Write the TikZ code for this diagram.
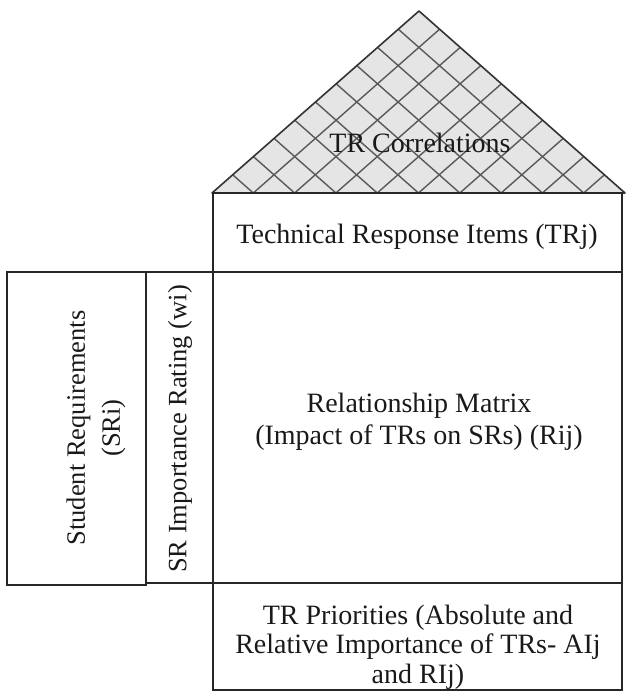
\documentclass[tikz,border=0pt]{standalone}
\usepackage{fontspec}
\setmainfont{Liberation Serif}
\usetikzlibrary{calc}
\begin{document}
\begin{tikzpicture}[x=1pt,y=-1pt,
  box/.style={draw=black!85, line width=2pt, rectangle, inner sep=0pt},
  hatch/.style={draw=black!65, line width=1.4pt},
  lbl/.style={font=\fontsize{28}{32}\selectfont, text=black!90, align=center, inner sep=0pt},
  vlbl/.style={lbl, rotate=90, font=\fontsize{26.5}{31}\selectfont}]
\useasboundingbox (0,0) rectangle (625,693);
% roof
\coordinate (apex) at (419,11);
\coordinate (bl) at (212,193);
\coordinate (br) at (625,193);
\fill[black!10] (apex) -- (bl) -- (br) -- cycle;
\foreach \i in {1,...,9} {
  \draw[hatch] ($(apex)!{\i/10}!(bl)$) -- ($(bl)!{(10-\i)/10}!(br)$);
  \draw[hatch] ($(apex)!{\i/10}!(br)$) -- ($(bl)!{\i/10}!(br)$);
}
\draw[draw=black!80, line width=1.6pt, line join=round] (apex) -- (bl) -- (br) -- cycle;
% boxes
\node[box, minimum width=409pt, minimum height=79pt] (tr) at (417.5,232.5) {};
\node[box, minimum width=409pt, minimum height=311pt] (rm) at (417.5,427.5) {};
\node[box, minimum width=409pt, minimum height=107pt] (pri) at (417.5,636.5) {};
\node[box, minimum width=139pt, minimum height=313pt] (sr) at (76.5,428.5) {};
\node[box, minimum width=67pt, minimum height=311pt] (wi) at (179.5,427.5) {};
% labels
\node[lbl] (trc) at (420,143) {TR Correlations};
\node[lbl] (tri) at (417,237) {Technical Response Items (TRj)};
\node[lbl] (rmt) at (419,422) {Relationship Matrix\\(Impact of TRs on SRs) (Rij)};
\node[lbl, font=\fontsize{28}{29.5}\selectfont] (prt) at (418,647) {TR Priorities (Absolute and\\Relative Importance of TRs- AIj\\and RIj)};
\node[vlbl] (srt) at (96,428) {Student Requirements\\[4pt](SRi)};
\node[vlbl] (wit) at (180,429) {SR Importance Rating (wi)};
\end{tikzpicture}
\end{document}
